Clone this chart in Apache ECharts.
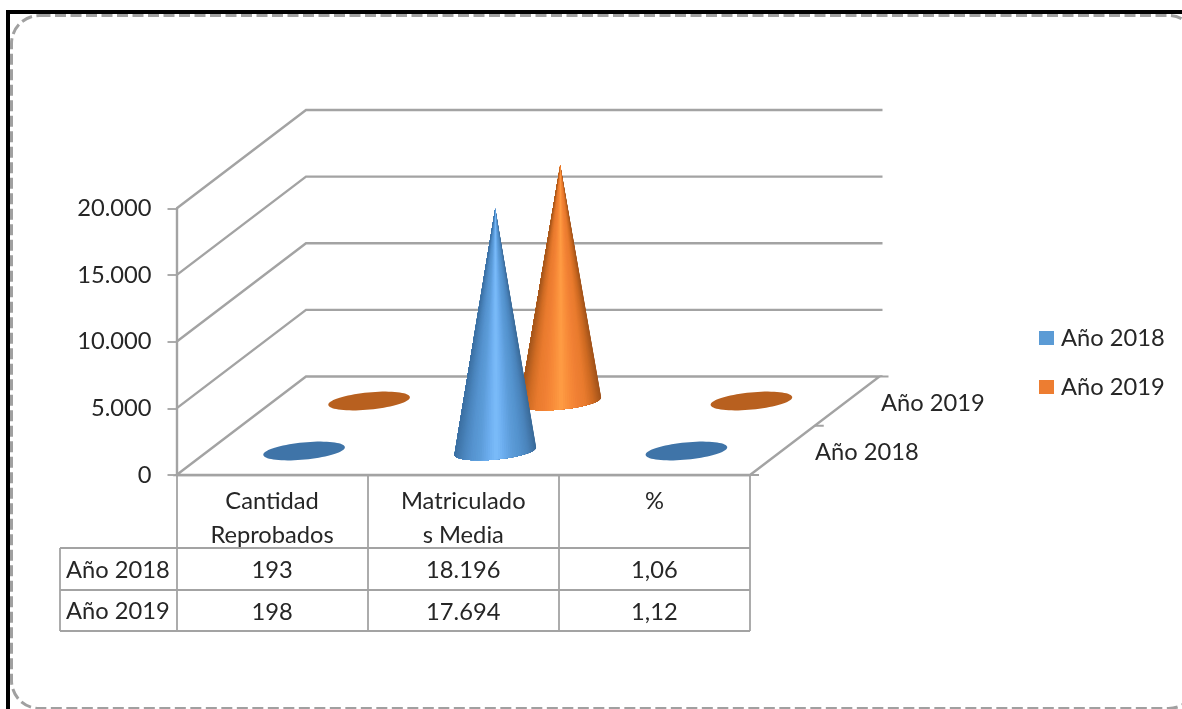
<!DOCTYPE html>
<html><head><meta charset="utf-8">
<style>html,body{margin:0;padding:0;background:#fff}#c{width:1182px;height:709px}</style>
<script src="https://cdn.jsdelivr.net/npm/echarts@6/dist/echarts.min.js"></script>
</head><body><div id="c"></div>
<script>
const categories = ['Cantidad\nReprobados', 'Matriculado\ns Media', '%'];
const seriesNames = ['Año 2018', 'Año 2019'];
const year2018 = [193, 18196, 1.06];
const year2019 = [198, 17694, 1.12];
const yTicks = [0, 5000, 10000, 15000, 20000];

const FONT = 'Lato', FS = 23.7;
const TXT = '#262626', GRID = '#a3a3a3';
const DEPTH = [129.5, -98.5];
const ROW_OFFSET = [[32, -24], [97, -74]];
const RX = 41, RY = 8.6, TILT = -0.095;
const ROW_Y = [570, 612];
const STYLE = [
  {main:'#5b9bd5', flat:'#3f74a8', stops:['#3c70a3','#4a84bc','#5593cf','#5c9cd8','#6baced','#7bbcfa','#6baced','#5c9cd8','#5392cd','#4a83ba','#3a6a98']},
  {main:'#ed7d31', flat:'#b8601f', stops:['#a4561c','#d06c24','#e97b2e','#f08034','#f88c3a','#ff9d44','#f88c3a','#f08034','#e97b2e','#ce6a22','#a0521a']}
];
const fmt = v => Number.isInteger(v)
  ? String(v).replace(/\B(?=(\d{3})+$)/g, '.')
  : v.toFixed(2).replace('.', ',');

function pt(cx, cy, t) {
  const x = RX * Math.cos(t), y = RY * Math.sin(t);
  return [cx + x * Math.cos(TILT) - y * Math.sin(TILT), cy + x * Math.sin(TILT) + y * Math.cos(TILT)];
}
function conePiece(idx) {
  return function (params, api) {
    const c = api.value(0), v = api.value(1);
    const base = api.coord([c, 0]), top = api.coord([c, v]);
    const [dx, dy] = ROW_OFFSET[idx];
    const cx = base[0] + dx, cy = base[1] + dy;
    const h = base[1] - top[1];
    const st = STYLE[idx];
    if (h < 12) {
      const pts = [];
      for (let i = 0; i < 72; i++) pts.push(pt(cx, cy, i / 72 * Math.PI * 2));
      return {type:'polygon', shape:{points:pts}, style:{fill:st.flat}};
    }
    const apex = [top[0] + dx, top[1] + dy];
    const children = [];
    const N = 60;
    for (let i = 0; i < N; i++) {
      const t0 = i / N * Math.PI;
      const s = (1 - Math.cos(t0 + Math.PI / N / 2)) / 2;
      const col = echarts.color.lerp(1 - s, st.stops);
      const pts = [apex];
      for (let j = i; j <= N; j++) pts.push(pt(cx, cy, j / N * Math.PI));
      children.push({type:'polygon', shape:{points:pts}, style:{fill:col}});
    }
    return {type:'group', children};
  };
}
function wallPiece(params, api) {
  const v = api.value(0);
  const r = params.coordSys;
  const y = api.coord([0, v])[1];
  const left = r.x, right = r.x + r.width;
  const by = y + DEPTH[1], bx = left + DEPTH[0], ex = right + DEPTH[0] + 3;
  const s = {stroke:GRID, lineWidth:2.4, fill:null};
  if (v === 0) {
    const L = (x1,y1,x2,y2) => ({type:'line', shape:{x1,y1,x2,y2}, style:{stroke:GRID, lineWidth:2}});
    return {type:'group', children:[
      {type:'polygon', shape:{points:[[left,y],[bx,by],[right+DEPTH[0],by],[right,y]]}, style:{stroke:GRID, lineWidth:2.4, fill:'#fff'}},
      L(right+DEPTH[0],by,right+DEPTH[0]+9,by),
      L(right+DEPTH[0]/2,y+DEPTH[1]/2,right+DEPTH[0]/2+9,y+DEPTH[1]/2),
      L(right,y,right+9,y)
    ]};
  }
  return {type:'polyline', shape:{points:[[left,y],[bx,by],[ex,by]]}, style:s};
}
function tablePiece(params, api) {
  const c = api.value(0), row = api.value(1), v = api.value(2);
  const x = api.coord([c, 0])[0];
  return {type:'text', style:{x:x, y:ROW_Y[row], text:fmt(v), fill:TXT, font:FS+'px '+FONT, textAlign:'center', textVerticalAlign:'middle'}};
}
const tableData = [];
[year2018, year2019].forEach((arr, r) => arr.forEach((v, c) => tableData.push([c, r, v])));

const txt = (x, y, text, align) => ({type:'text', silent:true, z:5, style:{x, y, text, fill:TXT, font:FS+'px '+FONT, textAlign:align||'left', textVerticalAlign:'middle'}});
const ln = (x1, y1, x2, y2) => ({type:'line', silent:true, z:5, shape:{x1,y1,x2,y2}, style:{stroke:GRID, lineWidth:1.8}});

const chart = echarts.init(document.getElementById('c'), null, {renderer:'canvas'});
chart.setOption({
  animation:false,
  backgroundColor:'#fff',
  textStyle:{fontFamily:FONT},
  grid:{left:176.5, width:573.5, top:208.5, height:266.5, containLabel:false},
  legend:{orient:'vertical', left:1034, top:321, itemWidth:15, itemHeight:14, itemGap:25, icon:'rect', data:seriesNames,
    textStyle:{fontFamily:FONT, fontSize:FS, color:TXT, padding:[0,0,0,2]}},
  xAxis:{type:'category', data:categories,
    axisLine:{lineStyle:{color:GRID, width:2.4}},
    axisTick:{show:true, length:156, lineStyle:{color:GRID, width:1.8}},
    axisLabel:{interval:0, color:TXT, fontFamily:FONT, fontSize:FS, lineHeight:34, margin:9}},
  yAxis:{type:'value', min:0, max:20000, interval:5000,
    splitLine:{show:false},
    axisLine:{show:true, lineStyle:{color:GRID, width:2.4}},
    axisTick:{show:true, length:9, lineStyle:{color:GRID, width:1.8}},
    axisLabel:{color:TXT, fontFamily:FONT, fontSize:FS, margin:25, padding:[2,0,0,0], formatter:v => fmt(v)}},
  series:[
    {name:seriesNames[0], type:'custom', coordinateSystem:'cartesian2d', z:4, clip:false, itemStyle:{color:STYLE[0].main},
      encode:{x:0,y:1}, renderItem:conePiece(0), data:year2018.map((v,i)=>[i,v])},
    {name:seriesNames[1], type:'custom', coordinateSystem:'cartesian2d', z:3, clip:false, itemStyle:{color:STYLE[1].main},
      encode:{x:0,y:1}, renderItem:conePiece(1), data:year2019.map((v,i)=>[i,v])},
    {name:'walls', type:'custom', coordinateSystem:'cartesian2d', z:1, clip:false, silent:true,
      encode:{y:0}, renderItem:wallPiece, data:yTicks.map(v=>[v])},
    {name:'table', type:'custom', coordinateSystem:'cartesian2d', z:5, clip:false, silent:true,
      encode:{x:0}, renderItem:tablePiece, data:tableData}
  ],
  graphic:[
    {type:'rect', silent:true, z:0, shape:{x:11.5,y:15.5,width:1185,height:693,r:28}, style:{fill:'#fff', stroke:'#a0a0a0', lineWidth:3, lineDash:[11,4.5]}},
    {type:'rect', silent:true, z:0, shape:{x:6,y:10,width:1176,height:4}, style:{fill:'#000'}},
    {type:'rect', silent:true, z:0, shape:{x:6,y:10,width:4,height:699}, style:{fill:'#000'}},
    ln(60,548,750,548), ln(60,590,750,590), ln(60,631,750,631), ln(60,548,60,631),
    txt(66,570,seriesNames[0]), txt(66,611,seriesNames[1]),
    txt(815,452,seriesNames[0]), txt(881,403,seriesNames[1])
  ]
});
</script></body></html>
